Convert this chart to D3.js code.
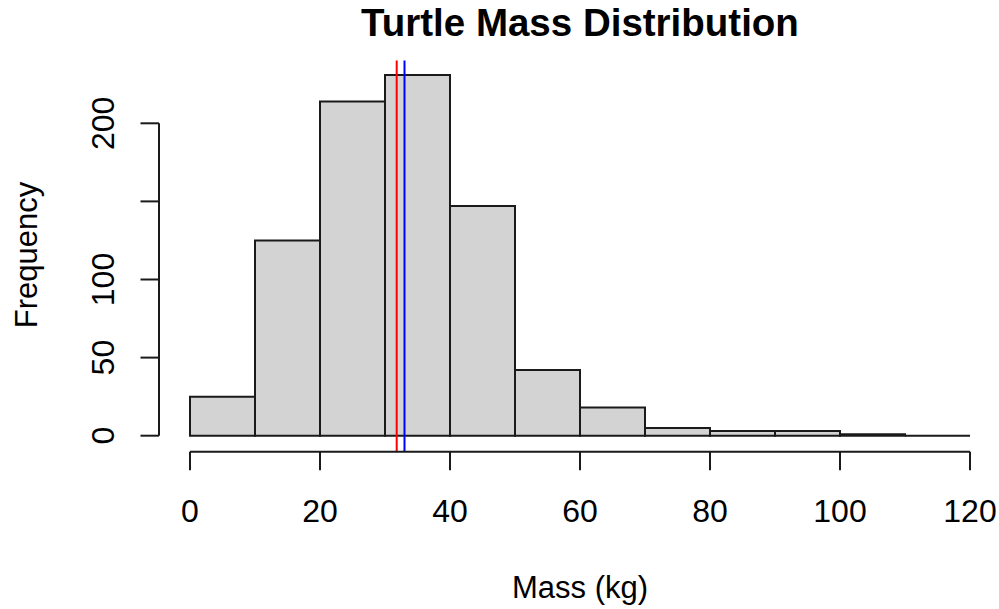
<!DOCTYPE html>
<html>
<head>
<meta charset="utf-8">
<script src="https://cdn.jsdelivr.net/npm/d3@7"></script>
<style>
  html, body { margin: 0; padding: 0; background: #fff; }
  svg { display: block; }
  text { font-family: "Liberation Sans", Arial, sans-serif; fill: #000; }
</style>
</head>
<body>
<svg id="chart" width="999" height="609"></svg>
<script>
// Data
const binStarts = [0, 10, 20, 30, 40, 50, 60, 70, 80, 90, 100, 110];
const binWidth = 10;
const counts = [25, 125, 214, 231, 147, 42, 18, 5, 3, 3, 1, 0];
const xTicks = [0, 20, 40, 60, 80, 100, 120];
const yTicks = [0, 50, 100, 150, 200];
const yTickLabels = ["0", "50", "100", "", "200"]; // R drops the overlapping "150"
const medianValue = 31.8;
const meanValue = 33.0;
const titleText = "Turtle Mass Distribution";
const xLabel = "Mass (kg)";
const yLabel = "Frequency";

const svg = d3.select("#chart");

// Plot region (R usr extends 4%)
const x = d3.scaleLinear().domain([-4.8, 124.8]).range([158.8, 1001.2]);
const y = d3.scaleLinear().domain([0, 200]).range([435.7, 123.3]);
const yMaxUsr = 240.24, yMinUsr = -9.24;

// Bars (drawn as closed paths so zero-height bins still show as a line)
svg.append("g").selectAll("path")
  .data(binStarts.map((s, i) => ({ s, c: counts[i] })))
  .join("path")
  .attr("d", d => {
    const x0 = x(d.s), x1 = x(d.s + binWidth), y0 = y(0), y1 = y(d.c);
    return `M${x0},${y0}L${x0},${y1}L${x1},${y1}L${x1},${y0}Z`;
  })
  .attr("fill", "#d3d3d3")
  .attr("stroke", "#1a1a1a")
  .attr("stroke-width", 2);

// Median / mean lines
const vlines = [{ v: medianValue, c: "#ff0000" }, { v: meanValue, c: "#0000ff" }];
svg.append("g").selectAll("line")
  .data(vlines)
  .join("line")
  .attr("x1", d => x(d.v)).attr("x2", d => x(d.v))
  .attr("y1", y(yMaxUsr)).attr("y2", y(yMinUsr) + 1.5)
  .attr("stroke", d => d.c)
  .attr("stroke-width", 2);

// X axis
const xAxisY = 451.7;
const xa = svg.append("g");
xa.append("line")
  .attr("x1", x(xTicks[0])).attr("x2", x(xTicks[xTicks.length - 1]))
  .attr("y1", xAxisY).attr("y2", xAxisY)
  .attr("stroke", "#1a1a1a").attr("stroke-width", 2);
xa.selectAll("line.t").data(xTicks).join("line").attr("class", "t")
  .attr("x1", d => x(d)).attr("x2", d => x(d))
  .attr("y1", xAxisY).attr("y2", xAxisY + 18.5)
  .attr("stroke", "#1a1a1a").attr("stroke-width", 2);
xa.selectAll("text").data(xTicks).join("text")
  .attr("x", d => x(d)).attr("y", 521.5)
  .attr("text-anchor", "middle")
  .attr("font-size", 32)
  .text(d => d);

// Y axis
const yAxisX = 159;
const ya = svg.append("g");
ya.append("line")
  .attr("x1", yAxisX).attr("x2", yAxisX)
  .attr("y1", y(yTicks[0])).attr("y2", y(yTicks[yTicks.length - 1]))
  .attr("stroke", "#1a1a1a").attr("stroke-width", 2);
ya.selectAll("line.t").data(yTicks).join("line").attr("class", "t")
  .attr("x1", yAxisX).attr("x2", yAxisX - 18.5)
  .attr("y1", d => y(d)).attr("y2", d => y(d))
  .attr("stroke", "#1a1a1a").attr("stroke-width", 2);
ya.selectAll("text").data(yTicks).join("text")
  .attr("transform", d => `translate(114,${y(d)}) rotate(-90)`)
  .attr("text-anchor", "middle")
  .attr("font-size", 32)
  .text((d, i) => yTickLabels[i]);

// Title and axis labels
svg.append("text")
  .attr("x", 580).attr("y", 36)
  .attr("text-anchor", "middle")
  .attr("font-size", 38.5)
  .attr("font-weight", "bold")
  .text(titleText);

svg.append("text")
  .attr("x", 580).attr("y", 598)
  .attr("text-anchor", "middle")
  .attr("font-size", 31)
  .text(xLabel);

svg.append("text")
  .attr("transform", "translate(37,255) rotate(-90)")
  .attr("text-anchor", "middle")
  .attr("font-size", 31)
  .text(yLabel);
</script>
</body>
</html>
